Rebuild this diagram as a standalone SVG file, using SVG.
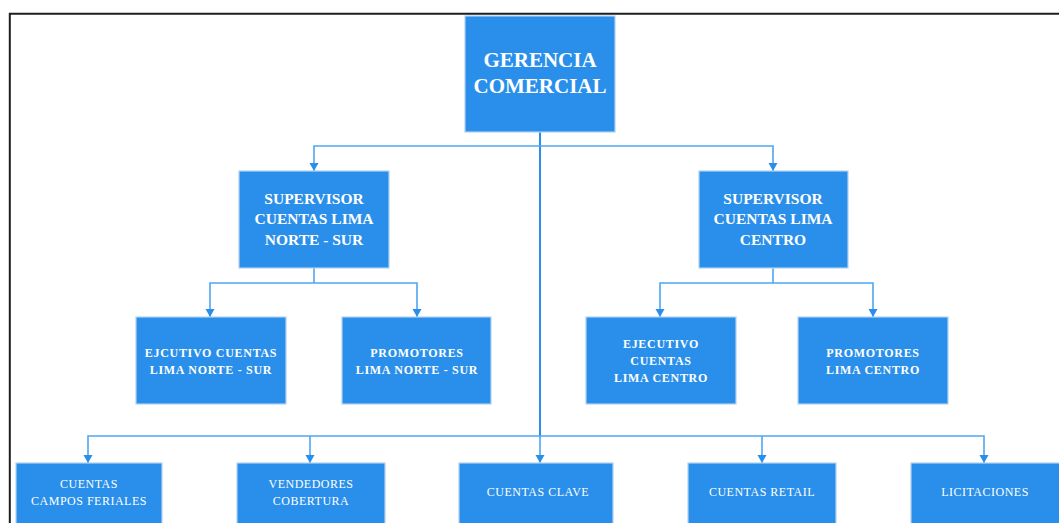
<svg xmlns="http://www.w3.org/2000/svg" width="1059" height="523" viewBox="0 0 1059 523">
  <style>
    .box { fill: #2a8fea; stroke: #b3d3f2; stroke-width: 1.2; }
    .wire { fill: none; stroke: #4fa6f2; stroke-width: 1.6; }
    .trunk { fill: none; stroke: #2a8fea; stroke-width: 2; }
    .t { fill: #ffffff; font-family: "Liberation Serif", "Times New Roman", serif; text-anchor: middle; }
    .top { font-size: 21px; font-weight: bold; }
    .sup { font-size: 15.5px; font-weight: bold; }
    .mid { font-size: 12px; font-weight: bold; letter-spacing: 0.7px; }
    .low { font-size: 12px; letter-spacing: 0.5px; }
  </style>
  <defs>
    <marker id="arrow" markerWidth="10" markerHeight="10" refX="5" refY="9" orient="0" markerUnits="userSpaceOnUse">
      <path d="M0.5,1 L9.5,1 L5,9 Z" fill="#2a8fea"/>
    </marker>
  </defs>

  <rect width="1059" height="523" fill="#ffffff"/>
  <!-- page frame -->
  <path d="M9.8,523 L9.8,13.8 L1060,13.8" fill="none" stroke="#1e1e1e" stroke-width="2"/>

  <g id="connectors">
    <!-- main trunk from the top node -->
    <path class="trunk" d="M540,132 L540,436"/>
    <!-- to supervisors -->
    <path class="wire" d="M540,146 L314,146 L314,171" marker-end="url(#arrow)"/>
    <path class="wire" d="M540,146 L773,146 L773,171" marker-end="url(#arrow)"/>
    <!-- left supervisor children -->
    <path class="wire" d="M314,268 L314,283"/>
    <path class="wire" d="M314,283 L210,283 L210,317" marker-end="url(#arrow)"/>
    <path class="wire" d="M314,283 L417,283 L417,317" marker-end="url(#arrow)"/>
    <!-- right supervisor children -->
    <path class="wire" d="M773,268 L773,283"/>
    <path class="wire" d="M773,283 L660,283 L660,317" marker-end="url(#arrow)"/>
    <path class="wire" d="M773,283 L873,283 L873,317" marker-end="url(#arrow)"/>
    <!-- bottom row -->
    <path class="wire" d="M540,436 L88,436 L88,463" marker-end="url(#arrow)"/>
    <path class="wire" d="M310,436 L310,463" marker-end="url(#arrow)"/>
    <path class="wire" d="M540,436 L540,463" marker-end="url(#arrow)"/>
    <path class="wire" d="M540,436 L984,436 L984,463" marker-end="url(#arrow)"/>
    <path class="wire" d="M762,436 L762,463" marker-end="url(#arrow)"/>
  </g>

  <g id="gerencia">
    <rect class="box" x="465" y="16" width="150" height="116"/>
    <text class="t top" x="540" y="67">GERENCIA</text>
    <text class="t top" x="540" y="93">COMERCIAL</text>
  </g>

  <g id="sup-norte-sur">
    <rect class="box" x="239" y="171" width="150" height="97"/>
    <text class="t sup" x="314" y="204">SUPERVISOR</text>
    <text class="t sup" x="314" y="224">CUENTAS LIMA</text>
    <text class="t sup" x="314" y="245">NORTE - SUR</text>
  </g>

  <g id="sup-centro">
    <rect class="box" x="699" y="171" width="149" height="97"/>
    <text class="t sup" x="773" y="204">SUPERVISOR</text>
    <text class="t sup" x="773" y="224">CUENTAS LIMA</text>
    <text class="t sup" x="773" y="245">CENTRO</text>
  </g>

  <g id="ejec-norte-sur">
    <rect class="box" x="136" y="317" width="150" height="87"/>
    <text class="t mid" x="211" y="357">EJCUTIVO CUENTAS</text>
    <text class="t mid" x="211" y="374">LIMA NORTE - SUR</text>
  </g>

  <g id="prom-norte-sur">
    <rect class="box" x="342" y="317" width="149" height="87"/>
    <text class="t mid" x="417" y="357">PROMOTORES</text>
    <text class="t mid" x="417" y="374">LIMA NORTE - SUR</text>
  </g>

  <g id="ejec-centro">
    <rect class="box" x="586" y="317" width="150" height="87"/>
    <text class="t mid" x="661" y="348">EJECUTIVO</text>
    <text class="t mid" x="661" y="365">CUENTAS</text>
    <text class="t mid" x="661" y="382">LIMA CENTRO</text>
  </g>

  <g id="prom-centro">
    <rect class="box" x="798" y="317" width="150" height="87"/>
    <text class="t mid" x="873" y="357">PROMOTORES</text>
    <text class="t mid" x="873" y="374">LIMA CENTRO</text>
  </g>

  <g id="campos-feriales">
    <rect class="box" x="16" y="463" width="146" height="62"/>
    <text class="t low" x="89" y="488">CUENTAS</text>
    <text class="t low" x="89" y="505">CAMPOS FERIALES</text>
  </g>

  <g id="vendedores">
    <rect class="box" x="237" y="463" width="148" height="62"/>
    <text class="t low" x="311" y="488">VENDEDORES</text>
    <text class="t low" x="311" y="505">COBERTURA</text>
  </g>

  <g id="cuentas-clave">
    <rect class="box" x="459" y="463" width="154" height="62"/>
    <text class="t low" x="538" y="496">CUENTAS CLAVE</text>
  </g>

  <g id="cuentas-retail">
    <rect class="box" x="688" y="463" width="148" height="62"/>
    <text class="t low" x="762" y="496">CUENTAS RETAIL</text>
  </g>

  <g id="licitaciones">
    <rect class="box" x="911" y="463" width="150" height="62"/>
    <text class="t low" x="985" y="496">LICITACIONES</text>
  </g>
</svg>
